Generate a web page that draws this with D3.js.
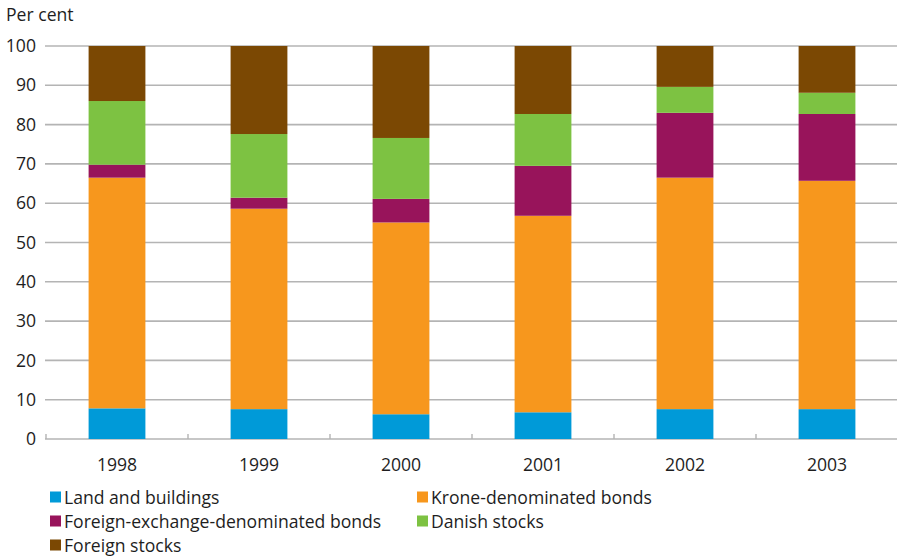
<!DOCTYPE html>
<html>
<head>
<meta charset="utf-8">
<script src="https://cdn.jsdelivr.net/npm/d3@7"></script>
<style>
  html, body { margin: 0; padding: 0; background: #fff; }
  svg { display: block; font-family: "Open Sans", "Noto Sans", sans-serif; }
</style>
</head>
<body>
<svg id="chart" width="897" height="557"></svg>
<script>
// Years on the x axis
const years = ["1998", "1999", "2000", "2001", "2002", "2003"];
// Portfolio shares per year, per cent (bottom to top of each stack)
const landAndBuildings   = [7.8, 7.6, 6.3, 6.8, 7.6, 7.6];
const kroneBonds         = [58.7, 51.0, 48.8, 50.0, 58.9, 58.1];
const foreignExchBonds   = [3.3, 2.8, 6.0, 12.7, 16.5, 17.0];
const danishStocks       = [16.2, 16.2, 15.5, 13.2, 6.6, 5.4];
const foreignStocks      = [14.0, 22.4, 23.4, 17.3, 10.4, 11.9];
const yTicks = [0, 10, 20, 30, 40, 50, 60, 70, 80, 90, 100];
const seriesNames = [
  "Land and buildings",
  "Krone-denominated bonds",
  "Foreign-exchange-denominated bonds",
  "Danish stocks",
  "Foreign stocks"
];
const seriesColors = ["#009ad8", "#f7971d", "#98145b", "#7dc242", "#7b4803"];

const seriesValues = [landAndBuildings, kroneBonds, foreignExchBonds, danishStocks, foreignStocks];
const keys = seriesNames;
const table = years.map((yr, i) => {
  const row = { year: yr };
  keys.forEach((k, j) => { row[k] = seriesValues[j][i]; });
  return row;
});

const svg = d3.select("#chart");
const plotLeft = 46, plotRight = 898, plotTop = 46, plotBottom = 439;
const fontSize = 17.6, textColor = "#1e1e1e";

const x = d3.scaleBand().domain(years).range([plotLeft, plotRight]).paddingInner(0.6).paddingOuter(0.3);
const y = d3.scaleLinear().domain([0, 100]).range([plotBottom, plotTop]);

// horizontal gridlines
svg.append("g")
  .selectAll("line")
  .data(yTicks)
  .join("line")
  .attr("x1", plotLeft - 1).attr("x2", 897)
  .attr("y1", d => y(d)).attr("y2", d => y(d))
  .attr("stroke", "#b4b4b4").attr("stroke-width", 1.6);

// y tick labels
svg.append("g")
  .selectAll("text")
  .data(yTicks)
  .join("text")
  .attr("x", 36).attr("y", d => y(d))
  .attr("dy", "0.35em")
  .attr("text-anchor", "end")
  .attr("font-size", fontSize)
  .attr("fill", textColor)
  .text(d => d);

svg.append("text")
  .attr("x", 6).attr("y", 21)
  .attr("font-size", fontSize).attr("fill", textColor)
  .text("Per cent");

// stacked bars
const stacked = d3.stack().keys(keys)(table);
svg.append("g")
  .selectAll("g")
  .data(stacked)
  .join("g")
  .attr("fill", (d, i) => seriesColors[i])
  .selectAll("rect")
  .data(d => d)
  .join("rect")
  .attr("x", d => x(d.data.year))
  .attr("width", x.bandwidth())
  .attr("y", d => y(d[1]))
  .attr("height", d => y(d[0]) - y(d[1]));

// small category separator ticks on the baseline
const step = x.step();
const sepX = d3.range(0, years.length + 1).map(i => plotLeft + i * step);
svg.append("g")
  .selectAll("line")
  .data(sepX)
  .join("line")
  .attr("x1", d => d).attr("x2", d => d)
  .attr("y1", plotBottom - 5).attr("y2", plotBottom)
  .attr("stroke", "#b4b4b4").attr("stroke-width", 1.4);

// x axis labels
svg.append("g")
  .selectAll("text")
  .data(years)
  .join("text")
  .attr("x", d => x(d) + x.bandwidth() / 2)
  .attr("y", 471)
  .attr("text-anchor", "middle")
  .attr("font-size", fontSize)
  .attr("fill", textColor)
  .text(d => d);

// legend
const legendPos = [[50, 497.5], [417, 497.5], [50, 521.5], [417, 521.5], [50, 545.5]];
const legend = svg.append("g")
  .selectAll("g")
  .data(seriesNames)
  .join("g")
  .attr("transform", (d, i) => `translate(${legendPos[i][0]},${legendPos[i][1]})`);
legend.append("rect")
  .attr("x", 0).attr("y", -6).attr("width", 11).attr("height", 11)
  .attr("fill", (d, i) => seriesColors[i]);
legend.append("text")
  .attr("x", 14).attr("y", 0).attr("dy", "0.35em")
  .attr("font-size", fontSize).attr("fill", textColor)
  .text(d => d);
</script>
</body>
</html>
